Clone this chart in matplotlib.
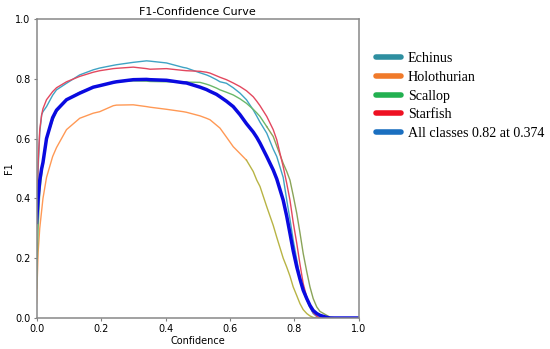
import matplotlib
matplotlib.use('Agg')
import matplotlib.pyplot as plt
from matplotlib.lines import Line2D

# confidence grid and F1 values
conf = [0.0, 0.005, 0.01, 0.016, 0.02, 0.031, 0.05, 0.062, 0.093, 0.134, 0.176, 0.196,
        0.238, 0.248, 0.3, 0.341, 0.352, 0.403, 0.455, 0.465, 0.507, 0.527, 0.538, 0.558,
        0.569, 0.589, 0.61, 0.631, 0.651, 0.672, 0.683, 0.693, 0.714, 0.734, 0.745,
        0.765, 0.776, 0.786, 0.796, 0.807, 0.817, 0.827, 0.838, 0.848, 0.858, 0.869,
        0.879, 0.9, 0.91, 0.93, 1.0]

echinus = [0.28, 0.50, 0.62, 0.68, 0.69, 0.707, 0.745, 0.763, 0.785, 0.813, 0.83, 0.836,
           0.845, 0.847, 0.855, 0.86, 0.859, 0.853, 0.838, 0.836, 0.82, 0.813, 0.808, 0.797,
           0.79, 0.785, 0.77, 0.752, 0.73, 0.696, 0.675, 0.655, 0.618, 0.565, 0.54,
           0.47, 0.394, 0.33, 0.26, 0.195, 0.137, 0.09, 0.06, 0.035, 0.015, 0.005,
           0.0, 0.0, 0.0, 0.0, 0.0]

holothurian = [0.05, 0.22, 0.30, 0.36, 0.40, 0.47, 0.54, 0.57, 0.63, 0.668, 0.685, 0.69,
               0.71, 0.712, 0.713, 0.707, 0.705, 0.698, 0.69, 0.688, 0.676, 0.668, 0.663, 0.645,
               0.635, 0.605, 0.573, 0.55, 0.528, 0.49, 0.461, 0.44, 0.372, 0.31, 0.27,
               0.2, 0.17, 0.14, 0.104, 0.075, 0.048, 0.028, 0.015, 0.007, 0.002, 0.0,
               0.0, 0.0, 0.0, 0.0, 0.0]

scallop = [0.10, 0.30, 0.42, 0.48, 0.52, 0.60, 0.66, 0.69, 0.73, 0.755, 0.772, 0.778,
           0.788, 0.79, 0.793, 0.792, 0.791, 0.79, 0.789, 0.789, 0.788, 0.782, 0.778, 0.769,
           0.763, 0.755, 0.746, 0.733, 0.718, 0.698, 0.686, 0.674, 0.64, 0.607, 0.575,
           0.517, 0.49, 0.461, 0.41, 0.35, 0.285, 0.216, 0.155, 0.104, 0.065, 0.037,
           0.022, 0.009, 0.003, 0.0, 0.0]

starfish = [0.30, 0.52, 0.63, 0.68, 0.70, 0.73, 0.757, 0.77, 0.79, 0.808, 0.822, 0.827,
            0.834, 0.835, 0.839, 0.834, 0.832, 0.834, 0.828, 0.827, 0.825, 0.822, 0.819, 0.81,
            0.805, 0.797, 0.786, 0.774, 0.76, 0.74, 0.725, 0.71, 0.674, 0.63, 0.596,
            0.506, 0.45, 0.394, 0.32, 0.25, 0.18, 0.115, 0.07, 0.037, 0.018, 0.006,
            0.0, 0.0, 0.0, 0.0, 0.0]

all_classes = [0.32, 0.40, 0.46, 0.50, 0.52, 0.60, 0.67, 0.695, 0.73, 0.752, 0.772, 0.777,
               0.788, 0.79, 0.797, 0.798, 0.797, 0.795, 0.787, 0.786, 0.772, 0.764, 0.758, 0.748,
               0.74, 0.725, 0.707, 0.68, 0.65, 0.622, 0.604, 0.585, 0.54, 0.495, 0.465,
               0.394, 0.34, 0.283, 0.225, 0.171, 0.13, 0.093, 0.065, 0.042, 0.025, 0.015,
               0.009, 0.002, 0.0, 0.0, 0.0]

legend_labels = ['Echinus', 'Holothurian', 'Scallop', 'Starfish', 'All classes 0.82 at 0.374']

fig = plt.figure(figsize=(5.5, 3.49), dpi=100)
ax = fig.add_axes([0.0664, 0.0888, 0.5863, 0.8568])

# the reference's lower tails of two curves are tinted olive
split_h = conf.index(0.651)
split_s = conf.index(0.714)

ax.plot(conf, echinus, color='#3fa3c4', lw=1)
ax.plot(conf[:split_h + 1], holothurian[:split_h + 1], color='#ff9955', lw=1)
ax.plot(conf[split_h:], holothurian[split_h:], color='#b8b445', lw=1)
ax.plot(conf[:split_s + 1], scallop[:split_s + 1], color='#6ab86a', lw=1)
ax.plot(conf[split_s:], scallop[split_s:], color='#8aa458', lw=1)
ax.plot(conf, starfish, color='#e3485f', lw=1)
ax.plot(conf, all_classes, color='#0a0ae0', lw=2.5)

ax.set_xlim(0, 1)
ax.set_ylim(0, 1)
ax.set_xticks([0, 0.2, 0.4, 0.6, 0.8, 1.0])
ax.set_yticks([0, 0.2, 0.4, 0.6, 0.8, 1.0])
ax.tick_params(labelsize=7, length=2.5, color='#808080', pad=2)
for s in ax.spines.values():
    s.set_color('#888888')
    s.set_linewidth(1.1)
ax.set_xlabel('Confidence', fontsize=7, labelpad=1)
ax.set_ylabel('F1', fontsize=7, labelpad=1)
ax.set_title('F1-Confidence Curve', fontsize=8, pad=3)

# legend colours in the reference differ slightly from the plotted lines
leg_colors = ['#2e8fa0', '#f07a2a', '#22b050', '#ee1122', '#1a6fc0']
handles = [Line2D([0], [0], color=c, lw=4, solid_capstyle='round') for c in leg_colors]
fig.legend(handles, legend_labels, loc='upper left', bbox_to_anchor=(0.674, 0.866),
           frameon=False, prop={'family': 'Liberation Serif', 'size': 10.1},
           handlelength=1.75, handletextpad=0.5, labelspacing=0.4, borderaxespad=0)

fig.savefig('out.png', dpi=100)
